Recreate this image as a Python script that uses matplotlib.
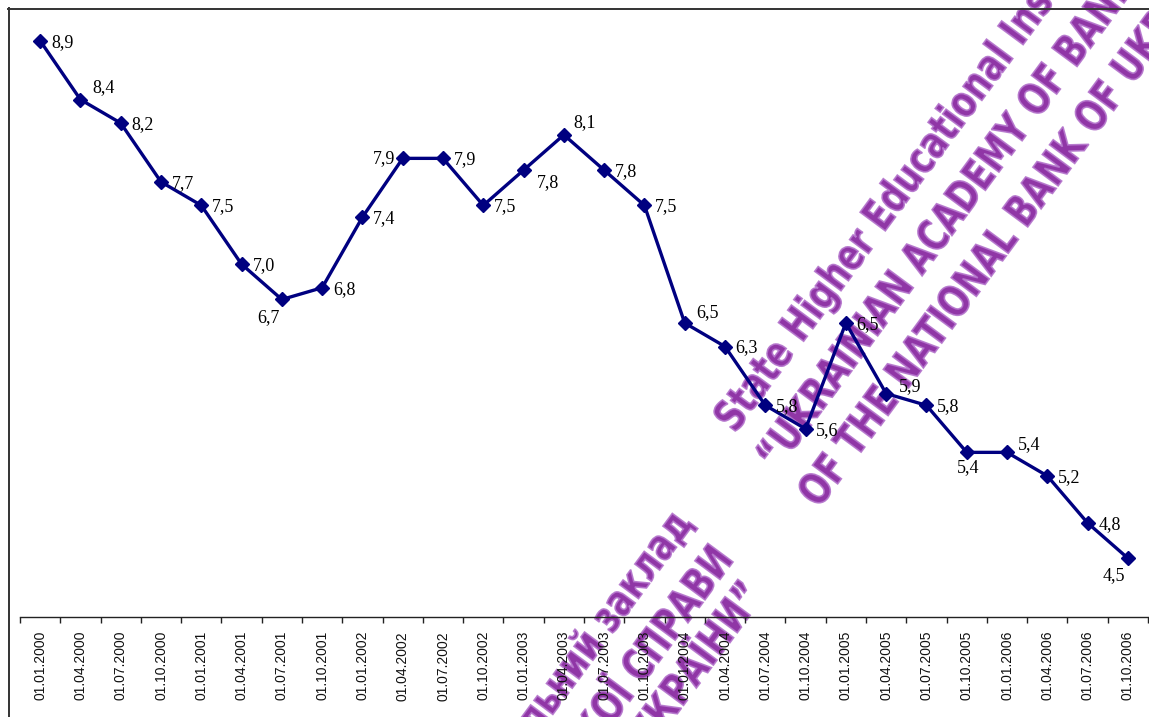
import matplotlib
matplotlib.use('Agg')
import matplotlib.pyplot as plt
from matplotlib.lines import Line2D
from matplotlib.patches import PathPatch
from matplotlib.textpath import TextPath
from matplotlib.font_manager import FontProperties
from matplotlib.transforms import Affine2D

W, H = 1149, 717

dates = ['01.01.2000', '01.04.2000', '01.07.2000', '01.10.2000',
         '01.01.2001', '01.04.2001', '01.07.2001', '01.10.2001',
         '01.01.2002', '01.04.2002', '01.07.2002', '01.10.2002',
         '01.01.2003', '01.04.2003', '01.07.2003', '01.10.2003',
         '01.01.2004', '01.04.2004', '01.07.2004', '01.10.2004',
         '01.01.2005', '01.04.2005', '01.07.2005', '01.10.2005',
         '01.01.2006', '01.04.2006', '01.07.2006', '01.10.2006']
rates = [8.9, 8.4, 8.2, 7.7, 7.5, 7.0, 6.7, 6.8,
         7.4, 7.9, 7.9, 7.5, 7.8, 8.1, 7.8, 7.5,
         6.5, 6.3, 5.8, 5.6, 6.5, 5.9, 5.8, 5.4,
         5.4, 5.2, 4.8, 4.5]

# label centre offsets from the marker, in pixels (x right, y down)
lbl_off = {1: (23, -13), 6: (-13, 17), 9: (-19, -1), 12: (24, 11),
           13: (21, -14), 16: (23, -12), 21: (24, -8), 23: (1, 14),
           24: (22, -9), 27: (-14, 16)}

stamp_en = ['State Higher Educational Institution',
            '\u201cUKRAINIAN ACADEMY OF BANKING',
            'OF THE NATIONAL BANK OF UKRAINE\u201d']
stamp_ua = ['Державний вищий навчальний заклад',
            '\u201cУКРАЇНСЬКА АКАДЕМІЯ БАНКІВСЬКОЇ СПРАВИ',
            'НАЦІОНАЛЬНОГО БАНКУ УКРАЇНИ\u201d']

def fx(x):
    return x / W

def fy(y):
    return 1 - y / H

fig = plt.figure(figsize=(W / 100, H / 100), dpi=100)
ax = fig.add_axes([fx(20), fy(617), (1148 - 20) / W, 588 / H])
ax.set_facecolor('none')

x = list(range(len(rates)))
ax.plot(x, rates, color='#000080', lw=2.4, marker='D', ms=6.8,
        mec='#000080', mew=1, zorder=3)

for i, v in enumerate(rates):
    dx, dy = lbl_off.get(i, (22, 0))
    ax.annotate(f'{v:.1f}'.replace('.', ','), (i, v),
                xytext=(dx, -(dy + 6)), textcoords='offset pixels',
                ha='center', va='baseline', fontsize=13,
                family='Liberation Serif', color='black', zorder=4)

ax.set_xlim(-0.5, len(rates) - 0.5)
ax.set_ylim(4, 9)
for s in ['left', 'top', 'right']:
    ax.spines[s].set_visible(False)
ax.spines['bottom'].set_color('#222222')
ax.spines['bottom'].set_linewidth(1.0)
ax.set_yticks([])
ax.set_xticks(x)
ax.set_xticklabels(dates, rotation=90, family='Liberation Sans',
                   fontsize=10, color='#111111')
ax.set_xticks([i - 0.5 for i in range(len(rates) + 1)], minor=True)
ax.tick_params(axis='x', which='major', length=0, pad=10)
ax.tick_params(axis='x', which='minor', length=4, width=1,
               color='#222222', direction='out')

# outer chart frame
fig.add_artist(Line2D([fx(8), 1], [fy(8.5), fy(8.5)], color='#333333', lw=1.4))
fig.add_artist(Line2D([fx(8.5), fx(8.5)], [0, fy(8)], color='#333333', lw=1.4))

# institution stamp, drawn as squeezed text outlines in pixel space
fp = FontProperties(family='DejaVu Sans', weight='bold', stretch='condensed')
ang, em, squeeze = 53.5, 43, 0.86

def stamp(line, sx, sy, right=False):
    tp = TextPath((0, 0), line, size=em, prop=fp)
    shift = tp.get_extents().x1 if right else 0
    tr = (Affine2D().translate(-shift, 0).scale(squeeze, 1)
          .rotate_deg(ang).translate(sx, H - sy))
    fig.add_artist(PathPatch(tp, transform=tr, facecolor='#84209c',
                             edgecolor='#b474cc', lw=1.2, alpha=0.9,
                             zorder=-1))

for (sx, sy), line in zip([(735, 434), (777, 472), (819, 509)], stamp_en):
    stamp(line, sx, sy)
for (sx, sy), line in zip([(693, 525), (733, 562), (763, 598)], stamp_ua):
    stamp(line, sx, sy, right=True)

fig.savefig('out.png', dpi=100, facecolor='white')
